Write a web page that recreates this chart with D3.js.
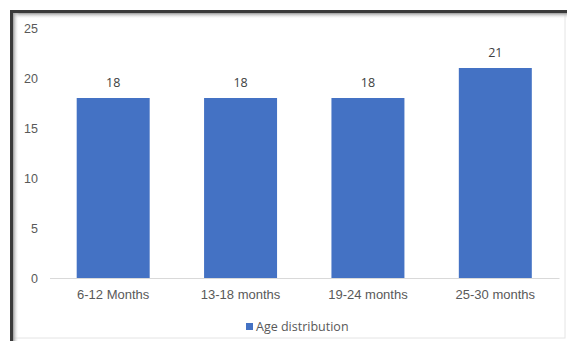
<!DOCTYPE html>
<html>
<head>
<meta charset="utf-8">
<script src="https://cdn.jsdelivr.net/npm/d3@7"></script>
<style>
  body { margin: 0; background: #fff; }
  svg { display: block; font-family: "Open Sans", "Noto Sans", sans-serif; }
</style>
</head>
<body>
<div id="chart"></div>
<script>
// chart data
var categories = ['6-12 Months', '13-18 months', '19-24 months', '25-30 months'];
var values = [18, 18, 18, 21];
var yTicks = [0, 5, 10, 15, 20, 25];
var seriesName = 'Age distribution';

var W = 567, H = 341;
var svg = d3.select('#chart').append('svg')
  .attr('width', W)
  .attr('height', H);

// frame with inset shadow on top/left
var defs = svg.append('defs');
var gTop = defs.append('linearGradient').attr('id', 'shTop')
  .attr('x1', 0).attr('y1', 0).attr('x2', 0).attr('y2', 1);
gTop.append('stop').attr('offset', 0).attr('stop-color', '#9a9a9a');
gTop.append('stop').attr('offset', 1).attr('stop-color', '#fff').attr('stop-opacity', 0);
var gLeft = defs.append('linearGradient').attr('id', 'shLeft')
  .attr('x1', 0).attr('y1', 0).attr('x2', 1).attr('y2', 0);
gLeft.append('stop').attr('offset', 0).attr('stop-color', '#9a9a9a');
gLeft.append('stop').attr('offset', 1).attr('stop-color', '#fff').attr('stop-opacity', 0);

svg.append('rect').attr('x', 13).attr('y', 13).attr('width', 552).attr('height', 325)
  .attr('fill', '#fff').attr('stroke', '#e4e4e4').attr('stroke-width', 1);
svg.append('rect').attr('x', 13).attr('y', 13).attr('width', 554).attr('height', 6)
  .attr('fill', 'url(#shTop)');
svg.append('rect').attr('x', 13).attr('y', 13).attr('width', 6).attr('height', 328)
  .attr('fill', 'url(#shLeft)');
svg.append('rect').attr('x', 10).attr('y', 10).attr('width', 557).attr('height', 3)
  .attr('fill', '#3a3a3a');
svg.append('rect').attr('x', 10).attr('y', 10).attr('width', 3).attr('height', 331)
  .attr('fill', '#3a3a3a');

// scales
var x = d3.scaleBand()
  .domain(categories)
  .range([49.5, 559])
  .paddingInner(0.427)
  .paddingOuter(0.2135);

var y = d3.scaleLinear()
  .domain([0, 25])
  .range([278, 28]);

// y axis labels (no line, no gridlines)
var yAxis = svg.append('g')
  .attr('transform', 'translate(38,0)')
  .call(d3.axisLeft(y).tickValues(yTicks).tickSize(0).tickPadding(0));
yAxis.select('.domain').remove();
yAxis.selectAll('text')
  .attr('fill', '#595959')
  .style('font-size', '12.5px');

// bars
svg.append('g').selectAll('rect')
  .data(values)
  .enter()
  .append('rect')
  .attr('x', function(d, i) { return x(categories[i]); })
  .attr('y', function(d) { return y(d); })
  .attr('width', x.bandwidth())
  .attr('height', function(d) { return y(0) - y(d); })
  .attr('fill', '#4472c4');

// value labels
svg.append('g').selectAll('text')
  .data(values)
  .enter()
  .append('text')
  .attr('x', function(d, i) { return x(categories[i]) + x.bandwidth() / 2; })
  .attr('y', function(d) { return y(d) - 11; })
  .attr('text-anchor', 'middle')
  .attr('fill', '#404040')
  .style('font-size', '12.5px')
  .text(function(d) { return d; });

// x axis
var xAxis = svg.append('g')
  .attr('transform', 'translate(0,' + y(0) + ')')
  .call(d3.axisBottom(x).tickSize(0).tickPadding(12));
xAxis.select('.domain')
  .attr('stroke', '#d9d9d9');
xAxis.selectAll('text')
  .attr('fill', '#595959')
  .style('font-size', '13px');

// legend
var legend = svg.append('g').attr('transform', 'translate(246,323)');
legend.append('rect')
  .attr('width', 7).attr('height', 7)
  .attr('fill', '#4472c4');
legend.append('text')
  .attr('x', 10).attr('y', 8)
  .attr('fill', '#595959')
  .style('font-size', '12.5px')
  .text(seriesName);
</script>
</body>
</html>
